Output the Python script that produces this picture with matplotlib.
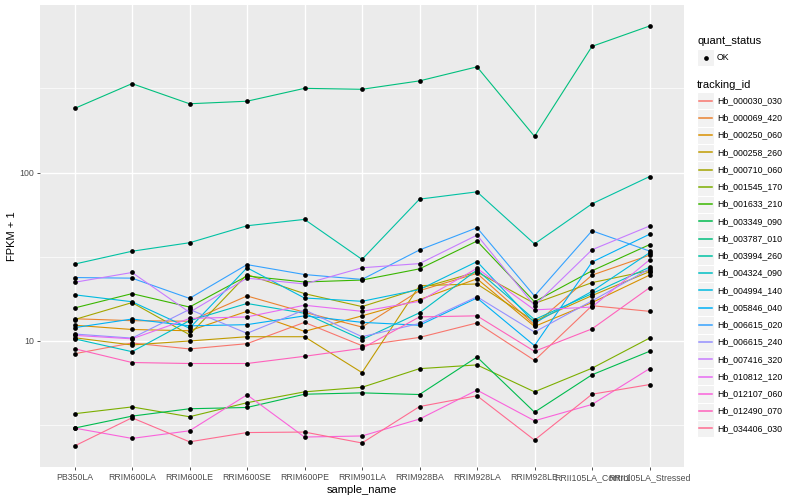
import numpy as np
import matplotlib
matplotlib.use('Agg')
import matplotlib.pyplot as plt
from matplotlib.patches import Rectangle
from matplotlib.lines import Line2D

plt.rcParams['font.family'] = ['Liberation Sans', 'DejaVu Sans']

# sample names (x axis)
samples = ['PB350LA', 'RRIM600LA', 'RRIM600LE', 'RRIM600SE', 'RRIM600PE', 'RRIM901LA',
           'RRIM928BA', 'RRIM928LA', 'RRIM928LE', 'RRII105LA_Control', 'RRII105LA_Stressed']

# FPKM + 1 per tracking id
Hb_000030_030 = [8.4, 9.73, 8.97, 9.64, 12.9, 9.38, 10.5, 12.8, 7.67, 16.2, 15.0]
Hb_000069_420 = [13.55, 13.2, 13.1, 18.5, 14.8, 12.1, 19.9, 25.2, 12.5, 24.6, 32.3]
Hb_000250_060 = [12.4, 11.7, 11.5, 15.0, 11.4, 14.1, 17.6, 23.4, 12.2, 16.9, 24.6]
Hb_000258_260 = [10.45, 9.47, 10.0, 10.6, 10.6, 6.49, 21.3, 21.8, 13.1, 18.6, 25.8]
Hb_000710_060 = [13.4, 16.9, 10.9, 24.8, 19.1, 16.0, 20.5, 25.7, 16.7, 22.2, 26.2]
Hb_001545_170 = [3.70, 4.06, 3.55, 4.30, 4.99, 5.31, 6.85, 7.21, 4.99, 6.89, 10.4]
Hb_001633_210 = [15.7, 19.1, 15.9, 24.3, 22.4, 23.0, 26.8, 39.2, 17.1, 26.1, 37.3]
Hb_003349_090 = [3.04, 3.58, 3.96, 4.03, 4.83, 4.92, 4.81, 8.03, 3.78, 6.30, 8.68]
Hb_003787_010 = [240, 337, 256, 265, 316, 312, 350, 424, 164, 561, 741]
Hb_003994_260 = [28.6, 34.1, 38.3, 48.3, 52.7, 30.5, 69.5, 76.8, 37.7, 65.2, 94.6]
Hb_004324_090 = [10.3, 8.64, 13.2, 16.7, 14.6, 10.2, 14.7, 26.4, 13.4, 19.1, 27.4]
Hb_004994_140 = [18.8, 17.1, 11.9, 27.2, 18.0, 17.2, 20.2, 29.6, 12.8, 19.7, 33.4]
Hb_005846_040 = [12.0, 13.5, 12.3, 12.5, 14.1, 12.9, 12.4, 18.0, 9.38, 29.4, 43.0]
Hb_006615_020 = [23.8, 23.6, 17.9, 28.4, 24.8, 23.2, 34.7, 47.0, 18.5, 45.1, 34.2]
Hb_006615_240 = [11.0, 10.4, 15.4, 11.1, 15.3, 10.6, 12.7, 18.3, 11.3, 17.3, 26.8]
Hb_007416_320 = [22.3, 25.5, 14.8, 23.6, 21.8, 27.2, 28.8, 42.5, 16.2, 34.8, 48.1]
Hb_010812_120 = [10.8, 10.3, 13.6, 13.9, 16.3, 15.0, 17.2, 27.0, 15.3, 15.9, 30.3]
Hb_012107_060 = [3.04, 2.64, 2.93, 4.79, 2.69, 2.73, 3.44, 5.11, 3.36, 4.20, 6.85]
Hb_012490_070 = [9.0, 7.45, 7.35, 7.35, 8.11, 9.04, 13.9, 14.1, 8.68, 11.8, 20.7]
Hb_034406_030 = [2.38, 3.50, 2.52, 2.86, 2.88, 2.48, 4.08, 4.73, 2.58, 4.83, 5.51]

tracking_ids = ['Hb_000030_030', 'Hb_000069_420', 'Hb_000250_060', 'Hb_000258_260',
                'Hb_000710_060', 'Hb_001545_170', 'Hb_001633_210', 'Hb_003349_090',
                'Hb_003787_010', 'Hb_003994_260', 'Hb_004324_090', 'Hb_004994_140',
                'Hb_005846_040', 'Hb_006615_020', 'Hb_006615_240', 'Hb_007416_320',
                'Hb_010812_120', 'Hb_012107_060', 'Hb_012490_070', 'Hb_034406_030']
values = [Hb_000030_030, Hb_000069_420, Hb_000250_060, Hb_000258_260, Hb_000710_060,
          Hb_001545_170, Hb_001633_210, Hb_003349_090, Hb_003787_010, Hb_003994_260,
          Hb_004324_090, Hb_004994_140, Hb_005846_040, Hb_006615_020, Hb_006615_240,
          Hb_007416_320, Hb_010812_120, Hb_012107_060, Hb_012490_070, Hb_034406_030]

# ggplot default hue palette for 20 levels
colors = ['#F8766D', '#EA8331', '#D89000', '#C09B00', '#A3A500', '#7CAE00', '#39B600',
          '#00BB4E', '#00BF7D', '#00C1A3', '#00BFC4', '#00BAE0', '#00B0F6', '#35A2FF',
          '#9590FF', '#C77CFF', '#E76BF3', '#FA62DB', '#FF62BC', '#FF6C91']

W, H = 800, 500
fig = plt.figure(figsize=(8, 5), dpi=100)
fig.patch.set_facecolor('white')

# panel
px0, px1, py0, py1 = 40, 684, 5, 467
ax = fig.add_axes([px0 / W, (H - py1) / H, (px1 - px0) / W, (py1 - py0) / H])
ax.set_facecolor('#EBEBEB')

x = np.arange(len(samples))
for vals, c in zip(values, colors):
    ax.plot(x, vals, color=c, lw=0.8, zorder=3)
for vals in values:
    ax.plot(x, vals, 'o', color='black', ms=3.4, zorder=4, markeredgewidth=0)

ax.set_yscale('log')
allv = np.log10(np.concatenate([np.array(v) for v in values]))
lo, hi = allv.min(), allv.max()
r = hi - lo
ax.set_ylim(10 ** (lo - 0.05 * r), 10 ** (hi + 0.05 * r))
ax.set_xlim(-0.6, len(samples) - 0.4)

ax.set_yticks([10, 100])
ax.set_yticklabels(['10', '100'])
ax.set_yticks([10 ** 0.5, 10 ** 1.5, 10 ** 2.5], minor=True)
ax.yaxis.set_minor_formatter(matplotlib.ticker.NullFormatter())
ax.set_xticks(x)
ax.set_xticklabels(samples)

ax.grid(True, which='major', color='white', lw=1.0, zorder=0)
ax.grid(True, which='minor', axis='y', color='white', lw=0.5, zorder=0)
ax.set_axisbelow(True)
for s in ax.spines.values():
    s.set_visible(False)
ax.tick_params(axis='both', which='major', length=2.5, width=0.6, color='#333333',
               labelsize=6.3, labelcolor='#4D4D4D', pad=2)
ax.tick_params(axis='y', which='minor', length=0)

ax.set_xlabel('sample_name', fontsize=8, labelpad=2)
ax.set_ylabel('FPKM + 1', fontsize=8, va='center')
ax.yaxis.set_label_coords((12 - px0) / (px1 - px0), 0.5)

# legend drawn in pixel coordinates
lax = fig.add_axes([0, 0, 1, 1], zorder=5)
lax.set_xlim(0, W)
lax.set_ylim(H, 0)
lax.axis('off')

lax.text(697, 41, 'quant_status', fontsize=8, va='center', ha='left')
lax.add_patch(Rectangle((697, 49), 17, 17, facecolor='#F2F2F2', edgecolor='white', lw=0.8))
lax.plot([705.5], [57.5], 'o', color='black', ms=3.4, markeredgewidth=0)
lax.text(717, 57.5, 'OK', fontsize=6.3, va='center', ha='left')

lax.text(697, 84.5, 'tracking_id', fontsize=8, va='center', ha='left')
step = 17.25
for i, (tid, c) in enumerate(zip(tracking_ids, colors)):
    yc = 100.7 + i * step
    lax.add_patch(Rectangle((697, yc - step / 2), 17, step, facecolor='#F2F2F2',
                            edgecolor='white', lw=0.8, zorder=1))
    lax.add_line(Line2D([699, 712], [yc, yc], color=c, lw=1.1, zorder=3))
    lax.text(717, yc, tid, fontsize=6.3, va='center', ha='left')

fig.savefig('out.png', dpi=100)
